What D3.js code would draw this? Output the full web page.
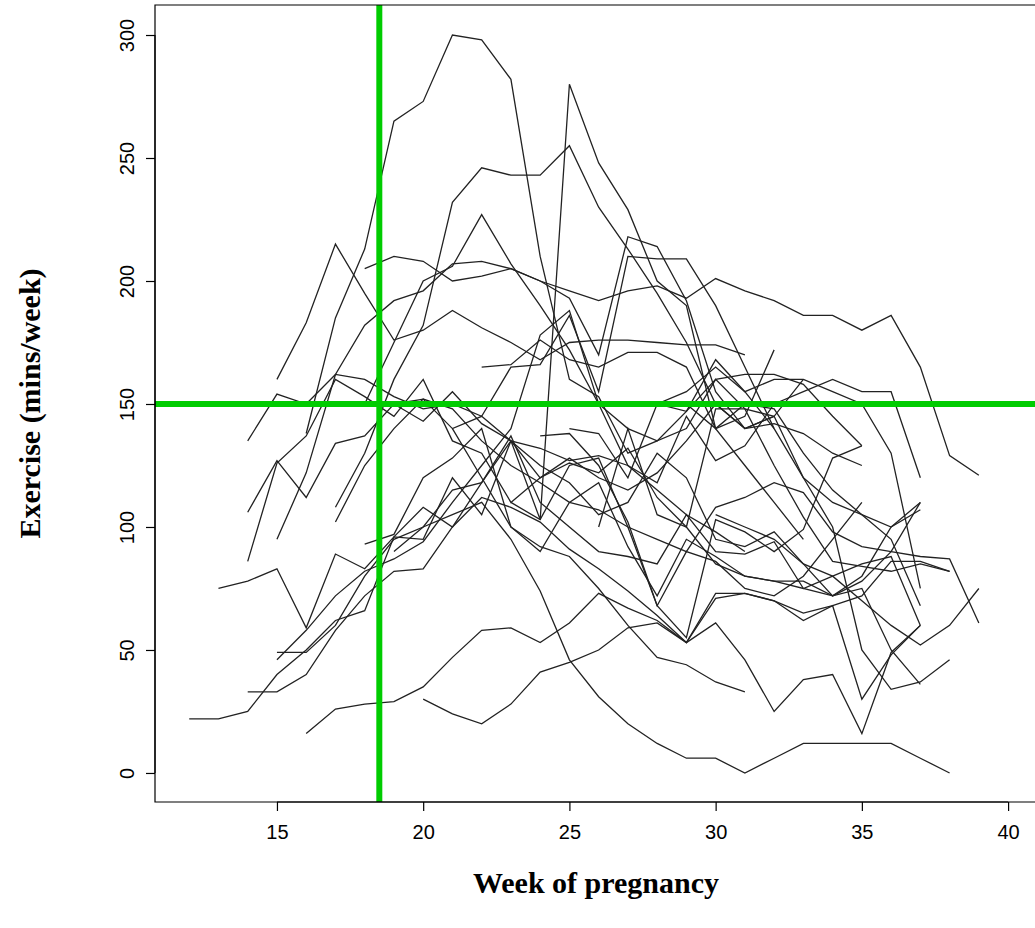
<!DOCTYPE html>
<html>
<head>
<meta charset="utf-8">
<script src="https://cdn.jsdelivr.net/npm/d3@7"></script>
<style>
  body { margin: 0; background: #fff; }
</style>
</head>
<body>
<div id="chart"></div>
<script>
// each woman: first week recorded + minutes per week from then on
const startWeeks = [12, 13, 14, 14, 14, 15, 15, 15, 14, 16, 17, 18, 20, 19, 16, 19, 17, 18, 15, 18, 22, 25, 24, 26, 23, 21, 27, 30, 29];
const minutes = [
  [22, 22, 25, 40, 50, 62, 66, 96, 95, 120, 105, 135, 120, 128, 120, 115, 122, 135, 150, 140, 145],
  [75, 78, 83, 59, 89, 83, 96, 108, 100, 118, 135, 125, 118, 105, 110, 130, 120, 95, 92, 98, 85, 72, 78, 90, 110],
  [135, 154, 150, 162, 160, 153, 148, 150, 145, 165, 166, 186, 155, 210, 209, 209, 190, 165, 140, 120, 110, 105, 100, 110],
  [106, 127, 112, 134, 137, 150, 143, 155, 142, 135, 132, 127, 129, 125, 118, 145, 127, 133, 150, 155, 160, 155, 155, 120],
  [86, 126, 137, 160, 153, 145, 160, 135, 130, 110, 120, 126, 122, 132, 112, 100, 85, 80, 78, 75, 80, 85, 88, 60],
  [95, 122, 162, 182, 192, 196, 207, 208, 205, 200, 193, 170, 218, 214, 192, 155, 140, 142, 138, 130, 125],
  [49, 49, 60, 80, 95, 100, 115, 118, 137, 110, 100, 90, 88, 85, 105, 90, 89, 94, 75, 72, 80, 100, 107],
  [46, 58, 72, 82, 87, 94, 110, 125, 140, 178, 188, 150, 140, 135, 140, 160, 148, 125, 104, 86, 84, 82, 85, 82],
  [33, 33, 40, 58, 72, 82, 83, 100, 112, 108, 102, 91, 83, 74, 64, 53, 71, 73, 70, 65, 68, 72, 86, 86, 82],
  [16, 26, 28, 29, 35, 47, 58, 59, 53, 61, 73, 67, 62, 53, 73, 73, 70, 62, 68, 30, 48, 60],
  [102, 125, 140, 152, 148, 135, 125, 118, 110, 107, 100, 95, 90, 108, 112, 118, 114, 98, 92, 90, 88, 87, 61],
  [93, 97, 120, 128, 140, 100, 90, 110, 118, 92, 72, 95, 88, 80, 78, 78, 72, 75, 50, 36],
  [30, 24, 20, 28, 41, 45, 50, 59, 61, 53, 61, 46, 25, 38, 40, 16, 49, 60],
  [90, 100, 105, 110, 95, 74, 46, 31, 20, 12, 6, 6, 0, 6, 12, 12, 12, 12, 6, 0],
  [138, 185, 213, 265, 273, 300, 298, 282, 210, 160, 153, 130, 135, 147, 168, 155, 140],
  [150, 152, 140, 145, 135, 103, 280, 248, 229, 200, 190, 140, 125, 110, 95],
  [108, 130, 160, 182, 232, 246, 243, 243, 255, 230, 213, 195, 175, 150, 140, 145, 160],
  [150, 175, 200, 206, 227, 207, 190, 172, 150, 125, 115, 105, 98, 90],
  [160, 183, 215, 195, 176, 180, 188, 181, 175, 168, 175, 176, 176, 175, 174, 174, 170],
  [205, 210, 208, 200, 202, 205, 200, 196, 192, 196, 198, 193, 201, 196, 192, 186, 186, 180, 186, 165, 129, 121],
  [165, 166, 176, 168, 165, 171, 171, 165, 140, 145, 172],
  [140, 138, 120, 150, 155, 165, 155, 160, 160, 155, 150, 130, 75],
  [137, 138, 125, 102, 68, 55, 103, 98, 90, 99, 128, 133],
  [100, 140, 105, 100, 148, 148, 145, 120, 100, 50, 34, 37, 46],
  [110, 103, 125, 128, 100, 68, 90, 86, 75, 72, 80, 95, 110],
  [140, 120, 100, 92, 88, 75, 60, 47, 44, 37, 33],
  [150, 150, 147, 160, 162, 162, 158, 145, 133],
  [105, 100, 95, 85, 80, 70, 60, 52, 60, 75],
  [150, 140, 150, 148, 130, 115, 105, 95, 68]
];
const xTicks = [15, 20, 25, 30, 35, 40];
const yTicks = [0, 50, 100, 150, 200, 250, 300];
const refWeek = 18.5;
const refMinutes = 150;

const W = 1035, H = 928;
const boxL = 155, boxR = 1035, boxT = 5, boxB = 802;

const x = d3.scaleLinear().domain([10.83, 40.92]).range([boxL, boxR]);
const y = d3.scaleLinear().domain([-11.8, 312.2]).range([boxB, boxT]);

const svg = d3.select('#chart').append('svg')
  .attr('width', W).attr('height', H)
  .style('font-family', 'Liberation Sans, Arial, sans-serif');

const series = minutes.map((vals, i) => vals.map((v, j) => [startWeeks[i] + j, v]));

const line = d3.line().x(d => x(d[0])).y(d => y(d[1]));

svg.append('g')
  .selectAll('path')
  .data(series)
  .enter()
  .append('path')
  .attr('d', line)
  .attr('fill', 'none')
  .attr('stroke', '#222')
  .attr('stroke-width', 1.3);

// green reference lines
svg.append('line')
  .attr('x1', x(refWeek)).attr('x2', x(refWeek))
  .attr('y1', boxT).attr('y2', boxB)
  .attr('stroke', '#00cc00').attr('stroke-width', 6);
svg.append('line')
  .attr('x1', boxL).attr('x2', boxR)
  .attr('y1', y(refMinutes)).attr('y2', y(refMinutes))
  .attr('stroke', '#00cc00').attr('stroke-width', 6);

// box
svg.append('path')
  .attr('d', `M${boxR},${boxT}H${boxL}V${boxB}H${boxR}`)
  .attr('fill', 'none').attr('stroke', '#000').attr('stroke-width', 1.2);

const xAxis = svg.append('g')
  .attr('transform', `translate(0,${boxB})`)
  .call(d3.axisBottom(x).tickValues(xTicks).tickSize(9).tickPadding(14));
xAxis.select('.domain').attr('d', `M${x(15)},0H${x(40)}`).attr('stroke-width', 1.2);
xAxis.selectAll('text').style('font-size', '20px').attr('fill', '#000');
xAxis.selectAll('line').attr('stroke-width', 1.2);

const yAxis = svg.append('g')
  .attr('transform', `translate(${boxL},0)`)
  .call(d3.axisLeft(y).tickValues(yTicks).tickSize(9).tickPadding(0));
yAxis.select('.domain').attr('d', `M0,${y(0)}V${y(300)}`).attr('stroke-width', 1.2);
yAxis.selectAll('line').attr('stroke-width', 1.2);
yAxis.selectAll('text')
  .attr('x', 0).attr('dy', 0)
  .attr('text-anchor', 'middle')
  .attr('transform', 'translate(-21,0) rotate(-90)')
  .style('font-size', '20px').attr('fill', '#000');

svg.append('text')
  .attr('x', 596).attr('y', 893)
  .attr('text-anchor', 'middle')
  .style('font-family', 'Liberation Serif, Times New Roman, serif')
  .style('font-weight', 'bold').style('font-size', '30px')
  .text('Week of pregnancy');

svg.append('text')
  .attr('transform', `translate(40,${(boxT + boxB) / 2}) rotate(-90)`)
  .attr('text-anchor', 'middle')
  .style('font-family', 'Liberation Serif, Times New Roman, serif')
  .style('font-weight', 'bold').style('font-size', '30px')
  .text('Exercise (mins/week)');
</script>
</body>
</html>
